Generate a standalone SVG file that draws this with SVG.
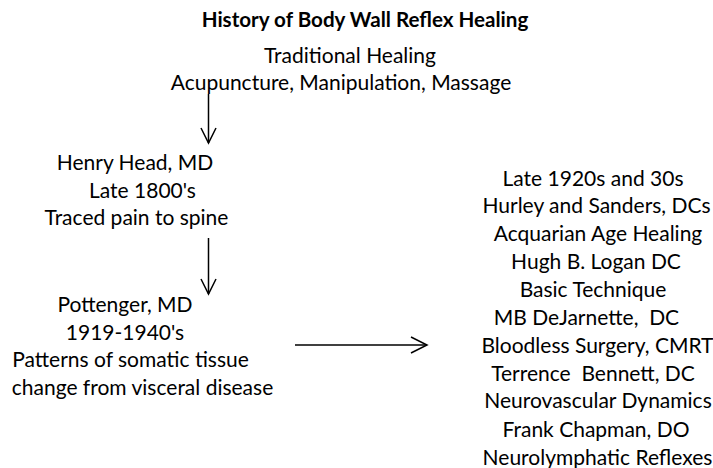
<svg xmlns="http://www.w3.org/2000/svg" width="713" height="468" viewBox="0 0 713 468">
<style>
text{font-family:Lato,"Liberation Sans",sans-serif;font-size:21px;fill:#000;text-anchor:middle}
.title{font-weight:bold;font-size:20.6px}
.conn line{stroke:#000;stroke-width:1.5}
.conn polyline{stroke:#000;stroke-width:1.5;fill:none}
</style>
<rect width="713" height="468" fill="#fff"/>
<g id="title"><text class="title" x="365" y="27">History of Body Wall Reflex Healing</text></g>
<g id="traditional">
<text x="350" y="63">Traditional Healing</text>
<text x="341" y="90">Acupuncture, Manipulation, Massage</text>
</g>
<g id="head">
<text x="135" y="170">Henry Head, MD</text>
<text x="142.5" y="198">Late 1800's</text>
<text x="136.5" y="225">Traced pain to spine</text>
</g>
<g id="pottenger">
<text x="125" y="312">Pottenger, MD</text>
<text x="125" y="340">1919-1940's</text>
<text x="130.5" y="367">Patterns of somatic tissue</text>
<text x="142.5" y="395">change from visceral disease</text>
</g>
<g id="later">
<text x="593" y="186">Late 1920s and 30s</text>
<text x="596.5" y="213">Hurley and Sanders, DCs</text>
<text x="598" y="241">Acquarian Age Healing</text>
<text x="596" y="269">Hugh B. Logan DC</text>
<text x="593" y="297">Basic Technique</text>
<text x="586.5" y="325" xml:space="preserve">MB DeJarnette,  DC</text>
<text x="597.5" y="353">Bloodless Surgery, CMRT</text>
<text x="593" y="381" xml:space="preserve">Terrence  Bennett, DC</text>
<text x="598" y="408">Neurovascular Dynamics</text>
<text x="596" y="437">Frank Chapman, DO</text>
<text x="597.5" y="465">Neurolymphatic Reflexes</text>
</g>
<g id="connectors" class="conn">
<line x1="208.5" y1="94" x2="208.5" y2="143"/>
<polyline points="201,128 208.5,143 216,128"/>
<line x1="208.5" y1="238" x2="208.5" y2="294"/>
<polyline points="201,279 208.5,294 216,279"/>
<line x1="295" y1="345" x2="427" y2="345"/>
<polyline points="411,337 427,345 411,353"/>
</g>
</svg>
